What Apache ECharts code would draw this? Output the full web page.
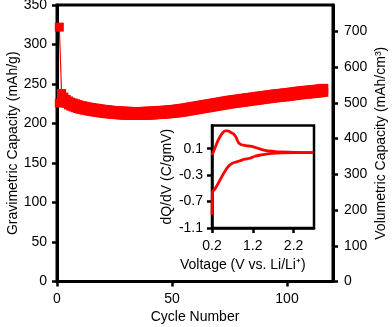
<!DOCTYPE html>
<html>
<head>
<meta charset="utf-8">
<script src="https://cdn.jsdelivr.net/npm/echarts@6/dist/echarts.min.js"></script>
<style>
html,body{margin:0;padding:0;background:#fff;}
#c{width:392px;height:327px;}
</style>
</head>
<body>
<div id="c"></div>
<script>
// ---- Main plot data (cycle number vs gravimetric capacity, mAh/g) ----
var cycles = [];
for (var i = 1; i <= 116; i++) cycles.push(i);
var dischargeCap = [
  322, 238, 233.5, 230.5, 228.5, 227, 226, 225, 224, 223,
  222.5, 221.9, 221.3, 220.7, 220.2, 219.7, 219.3, 218.8, 218.4, 218,
  217.6, 217.3, 217, 216.7, 216.4, 216.2, 216, 215.8, 215.6, 215.5,
  215.4, 215.3, 215.2, 215.2, 215.2, 215.2, 215.3, 215.4, 215.5, 215.6,
  215.8, 215.9, 216.1, 216.3, 216.5, 216.7, 216.9, 217.1, 217.4, 217.7,
  218, 218.3, 218.7, 219.1, 219.5, 220, 220.5, 221, 221.5, 222,
  222.5, 223, 223.5, 224, 224.5, 225, 225.5, 226, 226.5, 227,
  227.5, 228, 228.5, 229, 229.5, 229.9, 230.3, 230.7, 231.1, 231.5,
  231.9, 232.3, 232.7, 233.1, 233.5, 233.9, 234.3, 234.7, 235.1, 235.5,
  235.9, 236.3, 236.7, 237.1, 237.5, 237.8, 238.1, 238.4, 238.7, 239,
  239.4, 239.8, 240.2, 240.6, 241, 241.3, 241.6, 241.9, 242.2, 242.5,
  242.8, 243.1, 243.4, 243.8, 244.1, 244.5
];
var chargeCap = [
  226, 232, 228.5, 225.5, 223.5, 222, 221, 220, 219, 218,
  217.5, 216.9, 216.3, 215.7, 215.2, 214.7, 214.3, 213.8, 213.4, 213,
  212.6, 212.3, 212, 211.7, 211.4, 211.2, 211, 210.8, 210.6, 210.5,
  210.4, 210.3, 210.2, 210.2, 210.2, 210.2, 210.3, 210.4, 210.5, 210.6,
  210.8, 210.9, 211.1, 211.3, 211.5, 211.7, 211.9, 212.1, 212.4, 212.7,
  213, 213.3, 213.7, 214.1, 214.5, 215, 215.5, 216, 216.5, 217,
  217.5, 218, 218.5, 219, 219.5, 220, 220.5, 221, 221.5, 222,
  222.5, 223, 223.5, 224, 224.5, 224.9, 225.3, 225.7, 226.1, 226.5,
  226.9, 227.3, 227.7, 228.1, 228.5, 228.9, 229.3, 229.7, 230.1, 230.5,
  230.9, 231.3, 231.7, 232.1, 232.5, 232.8, 233.1, 233.4, 233.7, 234,
  234.4, 234.8, 235.2, 235.6, 236, 236.3, 236.6, 236.9, 237.2, 237.5,
  237.8, 238.1, 238.4, 238.8, 239.1, 239.5
];
var xTicks = [0, 50, 100];
var yLeftTicks = [0, 50, 100, 150, 200, 250, 300, 350];
var yRightTicks = [0, 100, 200, 300, 400, 500, 600, 700];

// ---- Inset data (voltage vs dQ/dV) ----
var insetUpper = [
  [0.21, 0.0], [0.22, 0.03], [0.28, 0.12], [0.36, 0.24], [0.45, 0.33],
  [0.52, 0.37], [0.58, 0.37], [0.65, 0.35], [0.73, 0.32], [0.79, 0.27],
  [0.85, 0.19], [0.92, 0.16], [1.0, 0.15], [1.1, 0.14], [1.2, 0.13],
  [1.35, 0.1], [1.5, 0.075], [1.7, 0.06], [1.9, 0.05], [2.2, 0.045],
  [2.5, 0.04], [2.68, 0.04]
];
var insetLower = [
  [0.2, -0.9], [0.205, -0.75], [0.21, -0.59], [0.22, -0.54], [0.26, -0.52],
  [0.32, -0.46], [0.4, -0.37], [0.48, -0.28], [0.56, -0.2], [0.63, -0.15],
  [0.7, -0.12], [0.8, -0.1], [0.9, -0.08], [1.0, -0.06], [1.13, -0.045],
  [1.25, -0.015], [1.4, 0.005], [1.6, 0.025], [1.9, 0.035], [2.3, 0.04],
  [2.68, 0.04]
];
var insetXTicks = [0.2, 1.2, 2.2];
var insetYTicks = [-1.1, -0.7, -0.3, 0.1];

var FONT = '"Liberation Sans", Arial, sans-serif';
var txt = {color: '#000', fontFamily: FONT, fontSize: 14};

function pairs(xs, ys) { return xs.map(function (x, i) { return [x, ys[i]]; }); }

var axisLine = {show: true, onZero: false, lineStyle: {color: '#000', width: 3}};
var insetLine = {show: true, onZero: false, lineStyle: {color: '#000', width: 2.5}};
var axisTick = function (vals) { return {show: true, inside: false, length: 5, lineStyle: {color: '#000', width: 2.5}, customValues: vals}; };

var chart = echarts.init(document.getElementById('c'), null, {renderer: 'canvas'});
chart.setOption({
  animation: false,
  backgroundColor: '#fff',
  grid: [
    {left: 57, top: 5, width: 276, height: 276.5, containLabel: false, outerBoundsMode: 'none',
      show: true, borderColor: '#000', borderWidth: 3, backgroundColor: 'transparent'},
    {left: 212, top: 125.5, width: 102, height: 102.5, containLabel: false, outerBoundsMode: 'none',
      show: true, borderColor: '#000', borderWidth: 2.5, backgroundColor: '#fff', z: 5}
  ],
  xAxis: [
    {gridIndex: 0, type: 'value', min: 0, max: 120,
      name: 'Cycle Number', nameLocation: 'middle', nameGap: 29, nameMoveOverlap: false, nameTextStyle: txt,
      axisLine: axisLine, axisTick: axisTick(xTicks),
      axisLabel: Object.assign({margin: 11, customValues: xTicks}, txt),
      splitLine: {show: false}},
    {gridIndex: 1, type: 'value', min: 0.2, max: 2.7,
      axisLine: insetLine, axisTick: axisTick(insetXTicks),
      axisLabel: Object.assign({margin: 11, customValues: insetXTicks, formatter: function (v) { return v.toFixed(1); }}, txt),
      splitLine: {show: false}, z: 6}
  ],
  yAxis: [
    {gridIndex: 0, type: 'value', min: 0, max: 350,
      name: 'Gravimetric Capacity (mAh/g)', nameLocation: 'middle', nameGap: 37, nameMoveOverlap: false, nameTextStyle: txt,
      axisLine: axisLine, axisTick: axisTick(yLeftTicks),
      axisLabel: Object.assign({margin: 10, customValues: yLeftTicks}, txt),
      splitLine: {show: false}},
    {gridIndex: 0, type: 'value', position: 'right', min: 0, max: 773.5,
      name: 'Volumetric Capacity (mAh/cm³)', nameLocation: 'middle', nameGap: 41, nameMoveOverlap: false, nameRotate: 90, nameTextStyle: txt,
      axisLine: axisLine, axisTick: axisTick(yRightTicks),
      axisLabel: Object.assign({margin: 11, customValues: yRightTicks}, txt),
      splitLine: {show: false}},
    {gridIndex: 1, type: 'value', min: -1.1, max: 0.45,
      name: 'dQ/dV (C/gmV)', nameLocation: 'middle', nameGap: 38, nameMoveOverlap: false, nameTextStyle: txt,
      axisLine: insetLine, axisTick: axisTick(insetYTicks),
      axisLabel: Object.assign({margin: 9, customValues: insetYTicks, formatter: function (v) { return v.toFixed(1); }}, txt),
      splitLine: {show: false}, z: 6}
  ],
  graphic: [
    {type: 'text', left: 180, top: 258, z: 10,
      style: {text: 'Voltage (V vs. Li/Li⁺)', fill: '#000', font: '14px ' + FONT}}
  ],
  series: [
    {type: 'line', xAxisIndex: 0, yAxisIndex: 0, data: pairs(cycles, chargeCap),
      symbol: 'rect', symbolSize: 9, showSymbol: true,
      lineStyle: {color: '#ff0000', width: 1.2}, itemStyle: {color: '#ff0000'}},
    {type: 'line', xAxisIndex: 0, yAxisIndex: 0, data: pairs(cycles, dischargeCap),
      symbol: 'rect', symbolSize: 9, showSymbol: true,
      lineStyle: {color: '#ff0000', width: 1.2}, itemStyle: {color: '#ff0000'}},
    {type: 'line', xAxisIndex: 1, yAxisIndex: 2, data: insetUpper, smooth: 0.3,
      symbol: 'none', lineStyle: {color: '#ff0000', width: 2.8}, z: 7},
    {type: 'line', xAxisIndex: 1, yAxisIndex: 2, data: insetLower, smooth: 0.3,
      symbol: 'none', lineStyle: {color: '#ff0000', width: 2.8}, z: 7}
  ]
});
</script>
</body>
</html>
